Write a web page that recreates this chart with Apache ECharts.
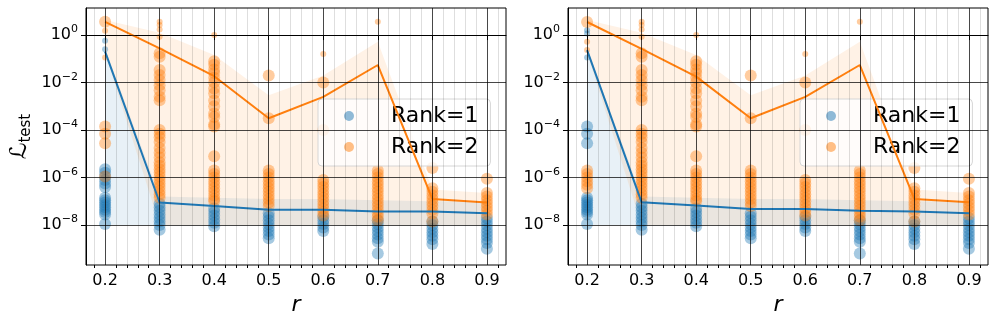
<!DOCTYPE html>
<html>
<head>
<meta charset="utf-8">
<script src="https://cdn.jsdelivr.net/npm/echarts@6/dist/echarts.min.js"></script>
<style>
  html, body { margin: 0; padding: 0; background: #fff; }
  #chart { width: 997px; height: 326px; }
</style>
</head>
<body>
<div id="chart"></div>
<script>
// r values (x) and tick positions
const rValues = [0.2, 0.3, 0.4, 0.5, 0.6, 0.7, 0.8, 0.9];
const xMinorTicks = [0.18, 0.22, 0.24, 0.26, 0.28, 0.32, 0.34, 0.36, 0.38, 0.42, 0.44, 0.46, 0.48,
  0.52, 0.54, 0.56, 0.58, 0.62, 0.64, 0.66, 0.68, 0.72, 0.74, 0.76, 0.78, 0.82, 0.84, 0.86, 0.88, 0.92];
const yTicks = [-8, -6, -4, -2, 0]; // log10 of L_test

// scatter values, log10(L_test), one list per r
const leftRank1 = [
  [-5.65, -5.8, -5.95, -6.1, -6.25, -6.4, -6.85, -6.95, -7.05, -7.15, -7.25, -7.35, -7.45, -7.55, -7.95],
  [-7.1, -7.25, -7.4, -7.55, -7.7, -7.85, -8.0, -8.2],
  [-7.3, -7.45, -7.6, -7.75, -7.9, -8.05],
  [-7.5, -7.65, -7.8, -7.95, -8.1, -8.25, -8.4, -8.55],
  [-7.65, -7.8, -7.95, -8.1, -8.25],
  [-7.8, -7.95, -8.1, -8.25, -8.4, -8.55, -8.7, -9.2],
  [-7.85, -8.0, -8.15, -8.3, -8.45, -8.6, -8.8],
  [-7.7, -7.85, -8.0, -8.15, -8.3, -8.45, -8.6, -8.75, -9.0]
];
const leftRank1Small = [[-0.24, -0.6], [], [], [], [], [], [], []];
const leftRank2 = [
  [0.56, -3.85, -4.15, -4.55, -5.95],
  [-0.77, -0.91, -1.47, -1.68, -1.89, -2.11, -2.32, -2.6, -2.74, -4.0, -4.15, -4.3, -4.5, -4.75, -4.95,
    -5.15, -5.35, -5.5, -5.65, -5.8, -5.95, -6.1, -6.25, -6.4, -6.55, -6.7, -6.85],
  [-1.1, -1.25, -1.45, -1.6, -1.8, -2.0, -2.25, -2.45, -2.75, -3.0, -3.3, -3.45, -3.75, -3.85, -5.1,
    -5.7, -5.85, -6.0, -6.15, -6.3, -6.45, -6.6, -6.75, -6.9, -7.0],
  [-1.7, -3.5, -5.7, -5.85, -6.0, -6.15, -6.3, -6.45, -6.6, -6.75, -6.9, -7.05, -7.2],
  [-2.0, -4.0, -6.1, -6.25, -6.4, -6.55, -6.7, -6.85, -7.0, -7.15, -7.3, -7.45, -7.6],
  [-5.7, -5.85, -6.0, -6.15, -6.3, -6.45, -6.6, -6.75, -6.9, -7.05, -7.2, -7.35, -7.5, -7.65, -7.8],
  [-5.6, -6.45, -6.6, -6.75, -6.9, -7.05, -7.2, -7.35, -7.5, -7.85],
  [-6.05, -6.65, -6.8, -6.95, -7.1, -7.25, -7.4, -7.55]
];
const leftRank2Small = [[0.18, -0.94], [0.56, 0.42, 0.24, -0.07], [0.0], [], [-0.8], [0.56], [], []];

const rightRank1 = [[-3.85, -4.15, -4.55, -6.85, -6.95, -7.05, -7.15, -7.25, -7.35, -7.45, -7.55, -7.95]]
  .concat(leftRank1.slice(1));
const rightRank1Small = [[0.2, 0.07, -0.94], [], [], [], [], [], [], []];
const rightRank2 = [[0.55, -5.7, -5.85, -6.0, -6.15, -6.3, -6.45]].concat(leftRank2.slice(1));
const rightRank2Small = [[-0.28, -0.63]].concat(leftRank2Small.slice(1));

// median lines
const leftMedian1 = [-0.7, -7.05, -7.2, -7.35, -7.35, -7.43, -7.43, -7.5];
const leftMedian2 = [0.56, -0.56, -1.73, -3.5, -2.6, -1.26, -6.9, -7.05];
const rightMedian1 = [-0.63, -7.04, -7.17, -7.32, -7.32, -7.4, -7.43, -7.5];
const rightMedian2 = [0.55, -0.58, -1.75, -3.5, -2.6, -1.26, -6.9, -7.04];

// shaded bands
const band1Upper = [-0.55, -6.8, -6.85, -6.9, -6.9, -6.95, -7.0, -7.0];
const band1Lower = [-8.0, -8.0, -8.0, -8.0, -8.0, -8.0, -8.0, -8.0];
const band2Upper = [0.63, 0.1, -0.84, -2.53, -1.7, -0.28, -6.5, -6.65];
const band2Lower = [-0.75, -8.0, -8.0, -8.0, -8.0, -8.0, -8.0, -8.0];

const BLUE = '#1f77b4';
const ORANGE = '#ff7f0e';
const gridLefts = [86, 568];

function toPoints(cols) {
  return cols.flatMap((col, i) => col.map(v => [rValues[i], v]));
}

function bandSeries(g, upper, lower, color) {
  return {
    type: 'custom',
    xAxisIndex: 2 * g, yAxisIndex: g,
    z: 2, silent: true,
    data: rValues.map((r, i) => [r, lower[i], upper[i]]),
    renderItem: function (params, api) {
      if (params.dataIndex !== 0) return;
      const pts = [];
      rValues.forEach((r, i) => pts.push(api.coord([r, upper[i]])));
      for (let i = rValues.length - 1; i >= 0; i--) pts.push(api.coord([rValues[i], lower[i]]));
      return { type: 'polygon', shape: { points: pts }, style: { fill: color } };
    }
  };
}

function scatterSeries(g, name, cols, size, color) {
  return {
    type: 'scatter', name: name,
    xAxisIndex: 2 * g, yAxisIndex: g, z: 3,
    symbolSize: size,
    itemStyle: { color: color, opacity: 0.4 },
    data: toPoints(cols)
  };
}

function lineSeries(g, values, color) {
  return {
    type: 'line', xAxisIndex: 2 * g, yAxisIndex: g, z: 4,
    showSymbol: false, silent: true,
    lineStyle: { color: color, width: 2 },
    data: rValues.map((r, i) => [r, values[i]])
  };
}

function gridLineSeries(g) {
  const major = { color: 'rgba(0,0,0,0.72)', width: 1, type: 'solid' };
  const minor = { color: 'rgba(0,0,0,0.13)', width: 1, type: 'solid' };
  return {
    type: 'line', xAxisIndex: 2 * g, yAxisIndex: g, z: 1, data: [],
    markLine: {
      silent: true, symbol: 'none', animation: false,
      label: { show: false },
      data: [].concat(
        xMinorTicks.map(v => ({ xAxis: v, lineStyle: minor })),
        rValues.map(v => ({ xAxis: v, lineStyle: major })),
        yTicks.map(v => ({ yAxis: v, lineStyle: major }))
      )
    }
  };
}

const grids = gridLefts.map(l => ({
  left: l, top: 8, width: 420, height: 257,
  show: true, borderColor: '#000', borderWidth: 1, backgroundColor: 'transparent'
}));

const xAxes = [];
const yAxes = [];
gridLefts.forEach((l, g) => {
  xAxes.push({
    type: 'value', gridIndex: g, min: 0.165, max: 0.935, position: 'bottom',
    axisLine: { show: true, lineStyle: { color: '#000' } },
    axisTick: { show: true, customValues: rValues, length: 5, lineStyle: { color: '#000' } },
    axisLabel: { customValues: rValues, formatter: v => v.toFixed(1), fontSize: 16, color: '#000', margin: 8 },
    splitLine: { show: false },
    name: 'r', nameLocation: 'middle', nameGap: 26,
    nameTextStyle: { fontSize: 22, fontStyle: 'italic', color: '#000' }
  });
  xAxes.push({
    type: 'value', gridIndex: g, min: 0.165, max: 0.935, position: 'bottom',
    axisLine: { show: false },
    axisTick: { show: true, customValues: xMinorTicks, length: 3, lineStyle: { color: '#000' } },
    axisLabel: { show: false },
    splitLine: { show: false }
  });
  const y = {
    type: 'value', gridIndex: g, min: -9.68, max: 1.14,
    axisLine: { show: true, lineStyle: { color: '#000' } },
    axisTick: { show: true, customValues: yTicks, length: 5, lineStyle: { color: '#000' } },
    axisLabel: {
      customValues: yTicks, margin: 8, color: '#000',
      formatter: v => '{b|10}{s|' + (v < 0 ? '\u2212' + (-v) : '0') + '}',
      rich: {
        b: { fontSize: 16, color: '#000', lineHeight: 22 },
        s: { fontSize: 11, color: '#000', verticalAlign: 'top', lineHeight: 22 }
      }
    },
    splitLine: { show: false }
  };
  if (g === 0) {
    y.name = '{l|\u2112}{t|test}';
    y.nameLocation = 'middle';
    y.nameGap = 52;
    y.nameTextStyle = {
      rich: {
        l: { fontSize: 23, color: '#000', fontFamily: 'DejaVu Sans', lineHeight: 28 },
        t: { fontSize: 15, color: '#000', verticalAlign: 'bottom', lineHeight: 28 }
      }
    };
  }
  yAxes.push(y);
});

const legends = gridLefts.map(l => ({
  left: l + 232, top: 99, orient: 'vertical',
  icon: 'circle', itemWidth: 10, itemHeight: 10, itemGap: 9,
  data: [
    { name: 'Rank=1', itemStyle: { color: BLUE, opacity: 0.5 } },
    { name: 'Rank=2', itemStyle: { color: ORANGE, opacity: 0.5 } }
  ],
  textStyle: { fontSize: 22, color: '#000', padding: [0, 0, 0, 32] },
  backgroundColor: 'rgba(255,255,255,0.8)',
  borderColor: '#d6d6d6', borderWidth: 1, borderRadius: 4,
  padding: [6, 12, 8, 26]
}));

const panels = [
  { r1: leftRank1, r1s: leftRank1Small, r2: leftRank2, r2s: leftRank2Small, m1: leftMedian1, m2: leftMedian2 },
  { r1: rightRank1, r1s: rightRank1Small, r2: rightRank2, r2s: rightRank2Small, m1: rightMedian1, m2: rightMedian2 }
];

const series = [];
panels.forEach((p, g) => {
  series.push(gridLineSeries(g));
  series.push(bandSeries(g, band1Upper, band1Lower, 'rgba(31,119,180,0.1)'));
  series.push(bandSeries(g, band2Upper, band2Lower, 'rgba(255,127,14,0.1)'));
  series.push(scatterSeries(g, 'Rank=1', p.r1, 12, BLUE));
  series.push(scatterSeries(g, 'Rank=1', p.r1s, 6, BLUE));
  series.push(scatterSeries(g, 'Rank=2', p.r2, 12, ORANGE));
  series.push(scatterSeries(g, 'Rank=2', p.r2s, 6, ORANGE));
  series.push(lineSeries(g, p.m1, BLUE));
  series.push(lineSeries(g, p.m2, ORANGE));
});

const chart = echarts.init(document.getElementById('chart'));
chart.setOption({
  animation: false,
  textStyle: { fontFamily: 'DejaVu Sans' },
  grid: grids,
  xAxis: xAxes,
  yAxis: yAxes,
  legend: legends,
  series: series
});
</script>
</body>
</html>
